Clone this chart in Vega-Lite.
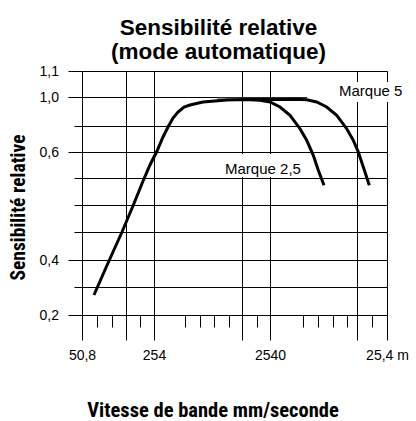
{
  "$schema": "https://vega.github.io/schema/vega-lite/v6.json",
  "width": 305,
  "height": 244,
  "autosize": {"type": "none"},
  "padding": {"left": 82, "top": 71, "right": 29, "bottom": 106},
  "background": "white",
  "title": {
    "text": ["Sensibilité relative", "(mode automatique)"],
    "font": "Liberation Sans",
    "fontSize": 22.5,
    "fontWeight": "bold",
    "lineHeight": 23.5,
    "color": "black",
    "anchor": "middle",
    "frame": "group",
    "baseline": "bottom",
    "dx": -16,
    "offset": -22
  },
  "config": {
    "view": {"stroke": null},
    "axis": {
      "domain": false,
      "grid": true,
      "gridColor": "black",
      "gridWidth": 1,
      "tickColor": "black",
      "tickWidth": 1,
      "labelColor": "black",
      "labelFont": "Liberation Sans",
      "labelFontSize": 14,
      "labelOverlap": false,
      "labelFlush": false,
      "labelBound": false,
      "titleColor": "black",
      "titleFont": "Roboto Condensed, Roboto",
      "titleFontWeight": "bold",
      "titleFontSize": 19.5
    }
  },
  "datasets": {
    "curves": [
      {"series": "2,5", "x": 66.4, "y": 0.2714},
      {"series": "2,5", "x": 90.9, "y": 0.3889},
      {"series": "2,5", "x": 124.2, "y": 0.45},
      {"series": "2,5", "x": 158.7, "y": 0.4981},
      {"series": "2,5", "x": 198.8, "y": 0.5444},
      {"series": "2,5", "x": 232.2, "y": 0.575},
      {"series": "2,5", "x": 269.6, "y": 0.6077},
      {"series": "2,5", "x": 303.7, "y": 0.7154},
      {"series": "2,5", "x": 335.4, "y": 0.7923},
      {"series": "2,5", "x": 370.4, "y": 0.8552},
      {"series": "2,5", "x": 409.0, "y": 0.8966},
      {"series": "2,5", "x": 460.8, "y": 0.931},
      {"series": "2,5", "x": 519.0, "y": 0.9448},
      {"series": "2,5", "x": 671.8, "y": 0.9655},
      {"series": "2,5", "x": 1081.8, "y": 0.9793},
      {"series": "2,5", "x": 1545.8, "y": 0.9828},
      {"series": "2,5", "x": 2082.8, "y": 0.9772},
      {"series": "2,5", "x": 2540, "y": 0.9655},
      {"series": "2,5", "x": 3092, "y": 0.931},
      {"series": "2,5", "x": 3766, "y": 0.8738},
      {"series": "2,5", "x": 4584, "y": 0.7792},
      {"series": "2,5", "x": 5230, "y": 0.69},
      {"series": "2,5", "x": 5956, "y": 0.5937},
      {"series": "2,5", "x": 6570, "y": 0.5648},
      {"series": "2,5", "x": 7349, "y": 0.5365},
      {"series": "5", "x": 1545.8, "y": 0.9828},
      {"series": "5", "x": 2082.8, "y": 0.9828},
      {"series": "5", "x": 3092, "y": 0.9828},
      {"series": "5", "x": 4155, "y": 0.9841},
      {"series": "5", "x": 5230, "y": 0.9807},
      {"series": "5", "x": 6367, "y": 0.9655},
      {"series": "5", "x": 7752, "y": 0.931},
      {"series": "5", "x": 9439, "y": 0.8738},
      {"series": "5", "x": 11490, "y": 0.7792},
      {"series": "5", "x": 13087, "y": 0.69},
      {"series": "5", "x": 14437, "y": 0.6},
      {"series": "5", "x": 15931, "y": 0.5712},
      {"series": "5", "x": 17936, "y": 0.5365}
    ],
    "boxes": [
      {"x": 5260, "x2": 32800, "y": 1.0577, "y2": 0.9655},
      {"x": 1040, "x2": 5367, "y": 0.5962, "y2": 0.5519}
    ],
    "plateau": [
      {"x": 888, "x2": 5230, "y": 0.9883}
    ],
    "labels": [
      {"x": 9876, "y": 1.0231, "label": "Marque 5"},
      {"x": 1040, "y": 0.5673, "label": "Marque 2,5"}
    ]
  },
  "encoding": {
    "x": {
      "field": "x",
      "type": "quantitative",
      "scale": {"type": "log", "domain": [50.8, 254, 2540, 25400], "range": [0, 72, 188, 305], "nice": false},
      "axis": {
        "values": [50.8, 71, 99.4, 135.9, 185.9, 254, 470, 633, 836, 1126, 1457, 1963, 2540, 4862, 6533, 8776, 11557, 14074, 18906, 25400],
        "labelExpr": "datum.value == 50.8 ? '50,8' : datum.value == 254 ? '254' : datum.value == 2540 ? '2540' : datum.value == 25400 ? '25,4 m' : ''",
        "tickSize": {"condition": {"test": "indexof([50.8, 135.9, 254, 1457, 2540, 14074, 25400], datum.value) >= 0", "value": 25}, "value": 12},
        "gridOpacity": {"condition": {"test": "indexof([50.8, 135.9, 254, 1457, 2540, 14074, 25400], datum.value) >= 0", "value": 1}, "value": 0},
        "labelPadding": 8,
        "title": "Vitesse de bande mm/seconde",
        "titleFontSize": 20.5,
        "titleX": 130.5,
        "titleY": 101,
        "titleAlign": "center",
        "titleBaseline": "alphabetic"
      }
    },
    "y": {
      "field": "y",
      "type": "quantitative",
      "scale": {"domain": [0.2, 0.3, 0.4, 0.45, 0.5, 0.55, 0.6, 0.8, 1.0, 1.1], "range": [244, 216, 189, 161, 134, 107, 81, 55, 26, 0], "zero": false, "nice": false},
      "axis": {
        "values": [0.2, 0.3, 0.4, 0.45, 0.5, 0.55, 0.6, 0.8, 1.0, 1.1],
        "labelExpr": "datum.value == 1.1 ? '1,1' : datum.value == 1 ? '1,0' : datum.value == 0.6 ? '0,6' : datum.value == 0.4 ? '0,4' : datum.value == 0.2 ? '0,2' : ''",
        "tickSize": {"condition": {"test": "indexof([0.2, 0.4, 0.6, 1, 1.1], datum.value) >= 0", "value": 14}, "value": 8},
        "labelPadding": 9.5,
        "title": "Sensibilité relative",
        "titleAngle": -90,
        "titleX": -58,
        "titleY": 136,
        "titleAlign": "center",
        "titleBaseline": "alphabetic"
      }
    }
  },
  "layer": [
    {
      "data": {"name": "boxes"},
      "mark": {"type": "rect", "fill": "white", "stroke": null},
      "encoding": {"x2": {"field": "x2"}, "y2": {"field": "y2"}}
    },
    {
      "data": {"name": "plateau"},
      "mark": {"type": "rule", "color": "#9a9a9a", "strokeWidth": 2},
      "encoding": {"x2": {"field": "x2"}}
    },
    {
      "data": {"name": "curves"},
      "mark": {"type": "line", "color": "black", "strokeWidth": 3, "strokeCap": "butt"},
      "encoding": {"detail": {"field": "series", "type": "nominal"}}
    },
    {
      "data": {"name": "labels"},
      "mark": {"type": "text", "align": "left", "baseline": "middle", "font": "Liberation Sans", "fontSize": 15, "color": "black"},
      "encoding": {"text": {"field": "label", "type": "nominal"}}
    }
  ]
}
